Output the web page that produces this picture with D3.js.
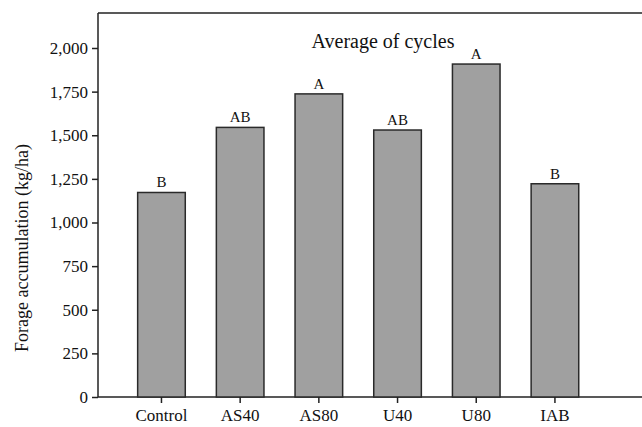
<!DOCTYPE html>
<html>
<head>
<meta charset="utf-8">
<script src="https://cdn.jsdelivr.net/npm/d3@7"></script>
<style>
  body { margin: 0; background: #fff; }
  text { font-family: "Liberation Serif", "Times New Roman", serif; fill: #111; }
</style>
</head>
<body>
<div id="chart"></div>
<script>
// data
const categories = ["Control", "AS40", "AS80", "U40", "U80", "IAB"];
const accumulation = [1172, 1545, 1737, 1530, 1908, 1222];
const letters = ["B", "AB", "A", "AB", "A", "B"];
const yTicks = [0, 250, 500, 750, 1000, 1250, 1500, 1750, 2000];

const width = 642, height = 427;
const margin = { left: 98, top: 13, bottom: 30 };
const y0 = 397;

const svg = d3.select("#chart").append("svg")
  .attr("width", width)
  .attr("height", height);

const x = d3.scaleBand()
  .domain(categories)
  .range([margin.left, 618.4])
  .paddingInner(0.395)
  .paddingOuter(0.504);

const y = d3.scaleLinear()
  .domain([0, 2000])
  .range([y0, 48]);

// frame: top line, left axis line, bottom axis line running to the edge
svg.append("line")
  .attr("x1", margin.left).attr("x2", width)
  .attr("y1", margin.top).attr("y2", margin.top)
  .attr("stroke", "#222").attr("stroke-width", 1.5);
svg.append("line")
  .attr("x1", margin.left).attr("x2", width)
  .attr("y1", y0).attr("y2", y0)
  .attr("stroke", "#222").attr("stroke-width", 1.5);
svg.append("line")
  .attr("x1", margin.left).attr("x2", margin.left)
  .attr("y1", margin.top).attr("y2", y0)
  .attr("stroke", "#222").attr("stroke-width", 1.5);

// bars
svg.selectAll("rect.bar")
  .data(accumulation)
  .join("rect")
  .attr("class", "bar")
  .attr("x", (d, i) => x(categories[i]))
  .attr("y", d => y(d))
  .attr("width", x.bandwidth())
  .attr("height", d => y0 - y(d))
  .attr("fill", "#a0a0a0")
  .attr("stroke", "#2a2a2a")
  .attr("stroke-width", 1.5);

// significance letters
svg.selectAll("text.letter")
  .data(accumulation)
  .join("text")
  .attr("class", "letter")
  .attr("x", (d, i) => x(categories[i]) + x.bandwidth() / 2)
  .attr("y", d => y(d) - 5)
  .attr("text-anchor", "middle")
  .attr("font-size", "15px")
  .text((d, i) => letters[i]);

// y axis
const yAxis = svg.append("g")
  .attr("transform", `translate(${margin.left},0)`)
  .call(d3.axisLeft(y).tickValues(yTicks).tickSize(6).tickSizeOuter(0)
    .tickFormat(d3.format(",")));
yAxis.select(".domain").remove();
yAxis.selectAll("line").attr("stroke", "#222").attr("stroke-width", 1.5);
yAxis.selectAll("text").attr("font-size", "17px").attr("x", -10);

// x axis
const xAxis = svg.append("g")
  .attr("transform", `translate(0,${y0})`)
  .call(d3.axisBottom(x).tickSize(6).tickSizeOuter(0));
xAxis.select(".domain").remove();
xAxis.selectAll("line").attr("stroke", "#222").attr("stroke-width", 1.5);
xAxis.selectAll("text").attr("font-size", "17px").attr("y", 24).attr("dy", 0);

// title
svg.append("text")
  .attr("x", 383)
  .attr("y", 48)
  .attr("text-anchor", "middle")
  .attr("font-size", "20px")
  .text("Average of cycles");

// y label
svg.append("text")
  .attr("transform", "translate(28,248) rotate(-90)")
  .attr("text-anchor", "middle")
  .attr("font-size", "18px")
  .text("Forage accumulation (kg/ha)");
</script>
</body>
</html>
